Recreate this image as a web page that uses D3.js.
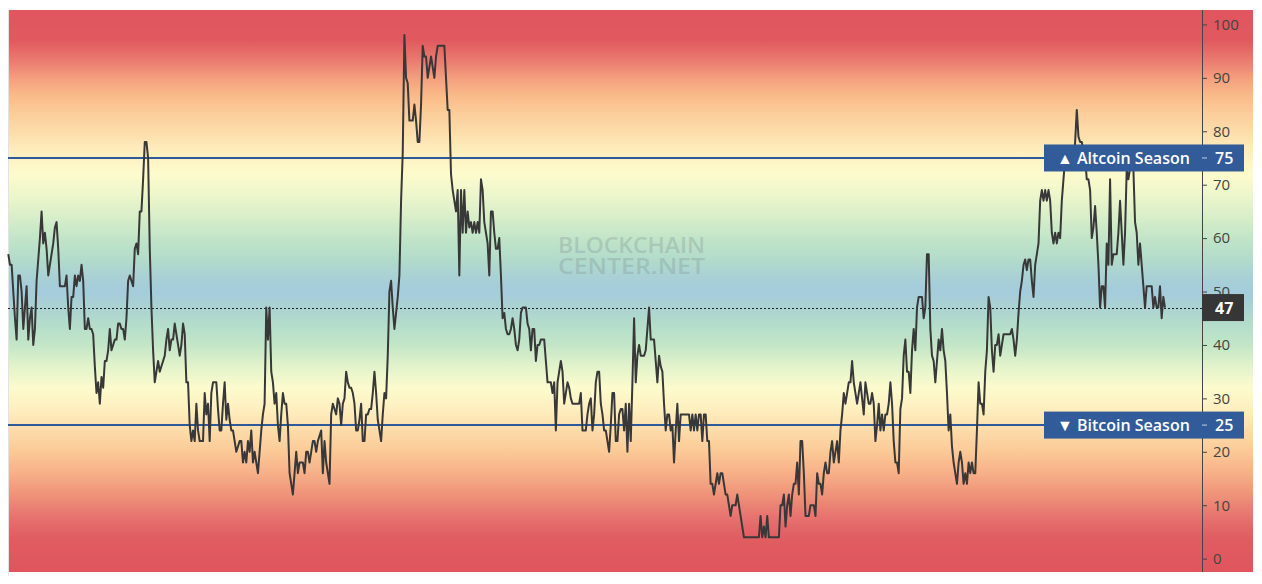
<!DOCTYPE html>
<html><head><meta charset="utf-8">
<script src="https://cdn.jsdelivr.net/npm/d3@7"></script>
<style>body{margin:0;background:#fff;} svg{display:block;}</style>
</head><body><svg id="c" width="1262" height="584"></svg>
<script>
// Altcoin season index values (one per period, oldest first)
const seg1 = [57,55,55,50,45,41,53,53,50,43,47,51,41,45,47,40,43,52,56,60,65,59,61,58,53,55,57,59,62,63,58,51,51,51,51,53,47,43,49,49,53,51,53,52,55,52,43,43,45,43,43,42,36,31,33,29,34,32,37,37,39,43,39,40,41,41,44,44,43,43,41,45,52,53,52,51,58,59,57,65,65,71,78,78,75,58,47,39,33,35,37,35,36,37,38,41,43,39,41,41,44,42,40,38,40,44,42,33,33,25,22,24,22,29,24,22,22,22,31,27,29,22,31,33,33,33,28,24,24,29,33,26,29,26,24,24,22,20,21,22,22,18,20,18,22,20,24,18,20,18,16,20,24,27,29,47,41,47,35,33,29,31,25,22,27,31,29,29,25];
const seg2 = [16,14,12,16,20,16,18,18,18,16,20,20,18,20,22,22,20,22,23,24,16,22,18,16,14,27,29,28,27,30,29,25,29,30,35,33,32,32,31,29,24,24,26,29,22,22,27,27,28,28,31,35,31,26,24,22,27,31,30,38,50,52,47,43,46,49,53,67,76,98,90,89,82,82,82,85,82,78,78,85,96,94,94,90,92,94,92,90,94,96,96,96,96,96,90,84,84,72,69,67,65,69,53,69,61,69,61,65,62,63,61,63,61,63,61,71,69,63,61,59,53,65,65,61,58,58,60,53,45,46,43,42,42,43,45,43,40,39,41,46,47,47,47,44,43,39,43,43,37,40,40,41,41,41,37,33,33,33,31,33,24,33,35,37,35,29,31,33,32,30,29];
const seg3 = [29,29,29,29,31,24,24,24,27,29,30,24,27,33,35,35,29,27,24,24,22,20,25,31,31,22,22,27,28,28,24,29,20,29,22,33,45,33,38,40,38,38,38,39,43,47,41,41,41,37,33,38,36,35,29,24,27,27,24,25,18,24,29,22,27,27,27,27,27,27,24,27,24,27,24,27,27,22,27,27,22,22,14,14,12,14,16,14,16,16,14,12,12,10,8,10,10,10,12,10,8,6,4,4,4,4,4,4,4,4,4,4,8,4,6,4,8,4,4,4,4,4,4,4,10,10,12,6,10,12,8,12,14,14,18,12,22,22,16,8,8,8,10,10,10,8,16,14,14,12,16,18,16,16,20,22,18,20,22,18,24,27,31,29,31,33,33,37,33,31,29,31];
const seg4 = [33,30,27,33,31,29,29,31,29,22,25,29,24,27,24,27,27,29,33,29,22,18,18,16,28,30,38,41,35,35,31,39,43,39,47,49,49,49,45,47,57,57,43,38,37,33,37,41,39,43,39,37,31,24,27,21,18,16,14,18,20,18,14,16,14,18,16,18,16,16,24,33,29,29,27,35,39,49,47,39,35,40,40,42,38,40,42,42,42,42,42,43,41,38,41,46,50,52,55,56,54,56,56,52,49,55,57,59,67,69,67,69,67,69,67,61,59,61,59,61,60,67,71,75,76,76,77,75,73,78,84,79,78,78,76,75,71,71,69,60,62,66,61,55,47,51,51,47,59,55,71,55,57,57,57,61,67,61,55,61,73,71,73,76,73,63,61,55,59,55,51,47,51,51,51,51,47,49,47,47,51,45,49,47];
const values = seg1.concat(seg2, seg3, seg4);

const yTicks = [0,10,20,30,40,50,60,70,80,90,100];
const altSeasonValue = 75;
const btcSeasonValue = 25;
const currentValue = values[values.length - 1];
const altLabel = "\u25B2 Altcoin Season";
const btcLabel = "\u25BC Bitcoin Season";

// background gradient stops: [index value, colour]
const bgStops = [
  [102.7,"#e0555e"],[97,"#e1595f"],[93,"#eb7d71"],[90,"#f49e7e"],[87,"#f9b888"],[84,"#fbca96"],
  [80,"#fddcaa"],[76,"#feefbf"],[72,"#fdfbcd"],[68,"#edf6cb"],[64,"#d8eec9"],[60,"#c2e5c8"],
  [56,"#b2dbcb"],[52,"#a7cfd7"],[50,"#a5ccdb"],[48,"#a8d0d5"],[44,"#b3dccb"],[40,"#c3e6c7"],
  [36,"#e2f3cb"],[32,"#fcfbcd"],[28,"#feefbf"],[24,"#fddcaa"],[20,"#fbc996"],[16,"#f7b088"],
  [12,"#ef9379"],[8,"#e77470"],[4,"#e05d61"],[-2.5,"#e0555e"]
];

const svg = d3.select("#c");
const L = 8, R = 1253, T = 10, B = 572, AX = 1202;

const y = d3.scaleLinear().domain([-2.5, 102.7]).range([B, T]);
const x = d3.scaleLinear().domain([0, values.length - 1]).range([8.3, 1165]);

const defs = svg.append("defs");
const grad = defs.append("linearGradient").attr("id","bg")
  .attr("gradientUnits","userSpaceOnUse").attr("x1",0).attr("x2",0)
  .attr("y1",y(102.7)).attr("y2",y(-2.5));
grad.selectAll("stop").data(bgStops).join("stop")
  .attr("offset", d => (y(d[0]) - y(102.7)) / (y(-2.5) - y(102.7)))
  .attr("stop-color", d => d[1]);

svg.append("rect").attr("x",L).attr("y",T).attr("width",R-L).attr("height",B-T).attr("fill","url(#bg)");
svg.append("line").attr("x1",L+0.5).attr("x2",L+0.5).attr("y1",T).attr("y2",B+4).attr("stroke","#e2e2e2");

// watermark
const wm = svg.append("g").attr("fill","#7f9494").attr("opacity",0.32)
  .attr("font-family","'Open Sans', sans-serif").attr("font-weight",600);
wm.append("text").attr("x",558).attr("y",253).attr("font-size",21).attr("textLength",147)
  .attr("lengthAdjust","spacingAndGlyphs").text("BLOCKCHAIN");
wm.append("text").attr("x",558).attr("y",274).attr("font-size",21).attr("textLength",147)
  .attr("lengthAdjust","spacingAndGlyphs").text("CENTER.NET");

// threshold lines
[altSeasonValue, btcSeasonValue].forEach(v => {
  svg.append("line").attr("x1",L).attr("x2",AX).attr("y1",y(v)).attr("y2",y(v))
    .attr("stroke","#2f5a9a").attr("stroke-width",2);
});
// current value dotted line
svg.append("line").attr("x1",L).attr("x2",AX).attr("y1",Math.round(y(currentValue))+0.5).attr("y2",Math.round(y(currentValue))+0.5)
  .attr("stroke","#222").attr("stroke-width",1).attr("stroke-dasharray","2,2");

// series line
svg.append("path").datum(values)
  .attr("d", d3.line().x((d,i)=>x(i)).y(d=>y(d)))
  .attr("fill","none").attr("stroke","#383838").attr("stroke-width",2).attr("stroke-linejoin","round");

// axis
const axis = svg.append("g").attr("transform",`translate(${AX},0)`)
  .call(d3.axisRight(y).tickValues(yTicks).tickSize(5).tickPadding(6));
axis.select(".domain").remove();
axis.selectAll(".tick line").attr("stroke","#444");
axis.selectAll(".tick text").attr("font-family","'Open Sans', sans-serif").attr("font-size",15).attr("fill","#444");
svg.append("line").attr("x1",AX+0.5).attr("x2",AX+0.5).attr("y1",T).attr("y2",B).attr("stroke","#444");

// labels
function flag(v, txt){
  const g = svg.append("g");
  g.append("rect").attr("x",1044).attr("y",y(v)-13.5).attr("width",200).attr("height",27).attr("fill","#325b99");
  g.append("text").attr("x",1057).attr("y",y(v)+6).attr("fill","#fff").attr("font-family","'Open Sans', sans-serif")
    .attr("font-weight",600).attr("font-size",16).text(txt);
  g.append("line").attr("x1",AX).attr("x2",AX+5).attr("y1",y(v)).attr("y2",y(v)).attr("stroke","#c8cfdc");
  g.append("text").attr("x",AX+13).attr("y",y(v)+6).attr("fill","#fff").attr("font-family","'Open Sans', sans-serif")
    .attr("font-weight",600).attr("font-size",16).text(v);
}
flag(altSeasonValue, altLabel);
flag(btcSeasonValue, btcLabel);

const cur = svg.append("g");
cur.append("rect").attr("x",AX).attr("y",y(currentValue)-13.5).attr("width",42).attr("height",27).attr("fill","#363636");
cur.append("text").attr("x",AX+13).attr("y",y(currentValue)+6).attr("fill","#fff").attr("font-family","'Open Sans', sans-serif")
  .attr("font-weight",700).attr("font-size",16).text(currentValue);
</script></body></html>
